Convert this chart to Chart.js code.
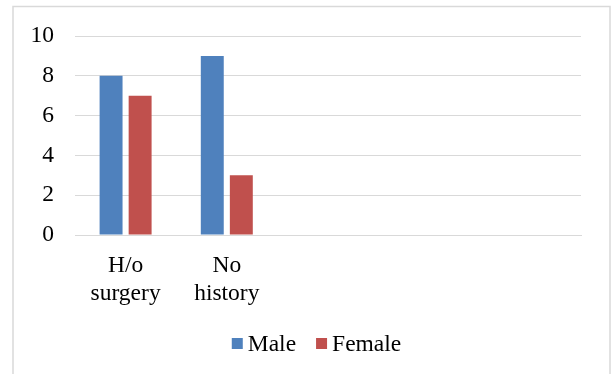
<!DOCTYPE html>
<html>
<head>
<meta charset="utf-8">
<script src="https://cdn.jsdelivr.net/npm/chart.js@4/dist/chart.umd.min.js"></script>
<style>
  html, body { margin: 0; padding: 0; background: #fff; }
  #wrap { position: relative; width: 612px; height: 374px; }
</style>
</head>
<body>
<div id="wrap"><canvas id="c" width="612" height="374"></canvas></div>
<script>
const categories = [["H/o", "surgery"], ["No", "history"], "", "", ""];
const maleValues = [8, 9, null, null, null];
const femaleValues = [7, 3, null, null, null];
const yTicks = [0, 2, 4, 6, 8, 10];

const FONT = "'Liberation Serif', 'Times New Roman', serif";
const FONT_SIZE = 23.5;

// grey outer frame, drawn behind everything
const framePlugin = {
  id: 'frame',
  beforeDraw(chart) {
    const ctx = chart.ctx;
    ctx.save();
    ctx.fillStyle = '#ffffff';
    ctx.fillRect(0, 0, chart.width, chart.height);
    ctx.strokeStyle = '#d9d9d9';
    ctx.lineWidth = 1.5;
    ctx.strokeRect(13, 6.5, 597, 380);
    ctx.restore();
  }
};

// compact legend under the axis: small square, short gap, label
const legendPlugin = {
  id: 'compactLegend',
  afterDraw(chart) {
    const ctx = chart.ctx;
    const box = 11, gapText = 5, gapItem = 20;
    const centerX = 316.5, baseline = 351;
    ctx.save();
    ctx.font = FONT_SIZE + 'px ' + FONT;
    ctx.textBaseline = 'alphabetic';
    const items = chart.data.datasets.map(ds => ({
      text: ds.label, color: ds.backgroundColor, w: ctx.measureText(ds.label).width
    }));
    const total = items.reduce((s, it) => s + box + gapText + it.w, 0) + gapItem * (items.length - 1);
    let x = centerX - total / 2;
    items.forEach(it => {
      ctx.fillStyle = it.color;
      ctx.fillRect(x, baseline - 13, box, box);
      x += box + gapText;
      ctx.fillStyle = '#000';
      ctx.fillText(it.text, x, baseline);
      x += it.w + gapItem;
    });
    ctx.restore();
  }
};

new Chart(document.getElementById('c'), {
  type: 'bar',
  data: {
    labels: categories,
    datasets: [
      { label: 'Male', data: maleValues, backgroundColor: '#4f81bd',
        barPercentage: 0.79, categoryPercentage: 0.574 },
      { label: 'Female', data: femaleValues, backgroundColor: '#c0504d',
        barPercentage: 0.79, categoryPercentage: 0.574 }
    ]
  },
  options: {
    responsive: false,
    animation: false,
    layout: { padding: { top: 36, right: 31, left: 0, bottom: 59 } },
    plugins: {
      legend: { display: false },
      tooltip: { enabled: false }
    },
    scales: {
      x: {
        grid: { display: false, drawTicks: false },
        border: { color: '#d9d9d9', width: 1 },
        ticks: { color: '#000', padding: 17, font: { family: FONT, size: FONT_SIZE, lineHeight: 1.175 }, maxRotation: 0, autoSkip: false },
        afterFit(scale) { scale.height = 80; }
      },
      y: {
        min: 0, max: 10,
        afterBuildTicks(scale) { scale.ticks = yTicks.map(v => ({ value: v })); },
        grid: { color: '#d9d9d9', lineWidth: 1, drawTicks: false },
        border: { display: false },
        ticks: { color: '#000', padding: 21, font: { family: FONT, size: FONT_SIZE } },
        afterFit(scale) { scale.width = 75; }
      }
    }
  },
  plugins: [framePlugin, legendPlugin]
});
</script>
</body>
</html>
